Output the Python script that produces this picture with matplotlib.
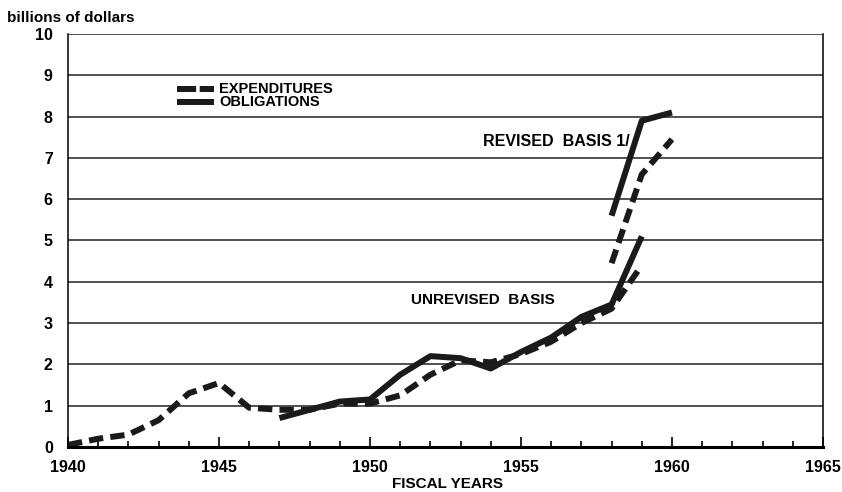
import matplotlib
matplotlib.use("Agg")
import matplotlib.pyplot as plt

# expenditures (dashed), unrevised basis
exp_years = [1940, 1941, 1942, 1943, 1944, 1945, 1946, 1947, 1948, 1949, 1950,
             1951, 1952, 1953, 1954, 1955, 1956, 1957, 1958, 1959]
exp_vals = [0.05, 0.2, 0.3, 0.65, 1.3, 1.55, 0.95, 0.9, 0.9, 1.05, 1.05,
            1.25, 1.75, 2.1, 2.05, 2.25, 2.55, 3.0, 3.35, 4.4]
# obligations (solid), unrevised basis
obl_years = [1947, 1948, 1949, 1950, 1951, 1952, 1953, 1954, 1955, 1956,
             1957, 1958, 1959]
obl_vals = [0.7, 0.9, 1.1, 1.15, 1.75, 2.2, 2.15, 1.9, 2.3, 2.65,
            3.15, 3.45, 5.1]
# revised basis
rev_years = [1958, 1959, 1960]
rev_exp = [4.45, 6.6, 7.45]
rev_obl = [5.6, 7.9, 8.1]

x_ticks = [1940, 1945, 1950, 1955, 1960, 1965]
y_ticks = list(range(0, 11))

plt.rcParams["font.family"] = ["Liberation Sans", "DejaVu Sans"]
plt.rcParams["font.weight"] = "bold"

fig = plt.figure(figsize=(8.42, 4.92), dpi=100)
ax = fig.add_axes([0.0808, 0.0915, 0.8966, 0.8394])

dash = dict(color="#1a1a1a", lw=4.3, dashes=(2.4, 1.2), solid_capstyle="butt")
solid = dict(color="#1a1a1a", lw=4.3, solid_capstyle="butt")

ax.plot(exp_years, exp_vals, **dash)
ax.plot(obl_years, obl_vals, **solid)
ax.plot(rev_years, rev_exp, **dash)
ax.plot(rev_years, rev_obl, **solid)

ax.set_xlim(1940, 1965)
ax.set_ylim(0, 10)
for y in y_ticks[1:]:
    ax.axhline(y, color="#222222", lw=1.1, zorder=0)

ax.set_xticks(x_ticks)
ax.set_xticks(range(1940, 1966), minor=True)
ax.set_yticks(y_ticks)
ax.tick_params(axis="x", which="major", direction="in", length=7, width=1.2,
               labelsize=11.5, pad=9.5)
ax.tick_params(axis="x", which="minor", direction="in", length=4, width=1.2)
ax.tick_params(axis="y", direction="in", length=0, labelsize=11.5, pad=11)
for lab in ax.get_xticklabels() + ax.get_yticklabels():
    lab.set_fontweight("bold")

ax.spines["top"].set_visible(False)
for s in ["left", "right"]:
    ax.spines[s].set_linewidth(1.1)
ax.spines["bottom"].set_linewidth(2.2)

# legend drawn as sample lines
leg_dash = dict(color="#1a1a1a", lw=4.3, dashes=(3.2, 0.6), solid_capstyle="butt")
ax.plot([1943.6, 1944.85], [8.68, 8.68], **leg_dash)
ax.plot([1943.6, 1944.85], [8.35, 8.35], **solid)
ax.text(1945.0, 8.68, "EXPENDITURES", fontsize=10.5, fontweight="bold",
        va="center")
ax.text(1945.0, 8.35, "OBLIGATIONS", fontsize=10.5, fontweight="bold",
        va="center")

ax.text(1953.75, 7.4, "REVISED  BASIS 1/", fontsize=11.5, fontweight="bold",
        va="center")
ax.text(1951.35, 3.55, "UNREVISED  BASIS", fontsize=11, fontweight="bold",
        va="center")

fig.text(0.008, 0.963, "billions of dollars", fontsize=11, fontweight="bold",
         va="center")
fig.text(0.531, 0.016, "FISCAL YEARS", fontsize=11, fontweight="bold",
         ha="center", va="center")

fig.savefig("out.png", dpi=100)
